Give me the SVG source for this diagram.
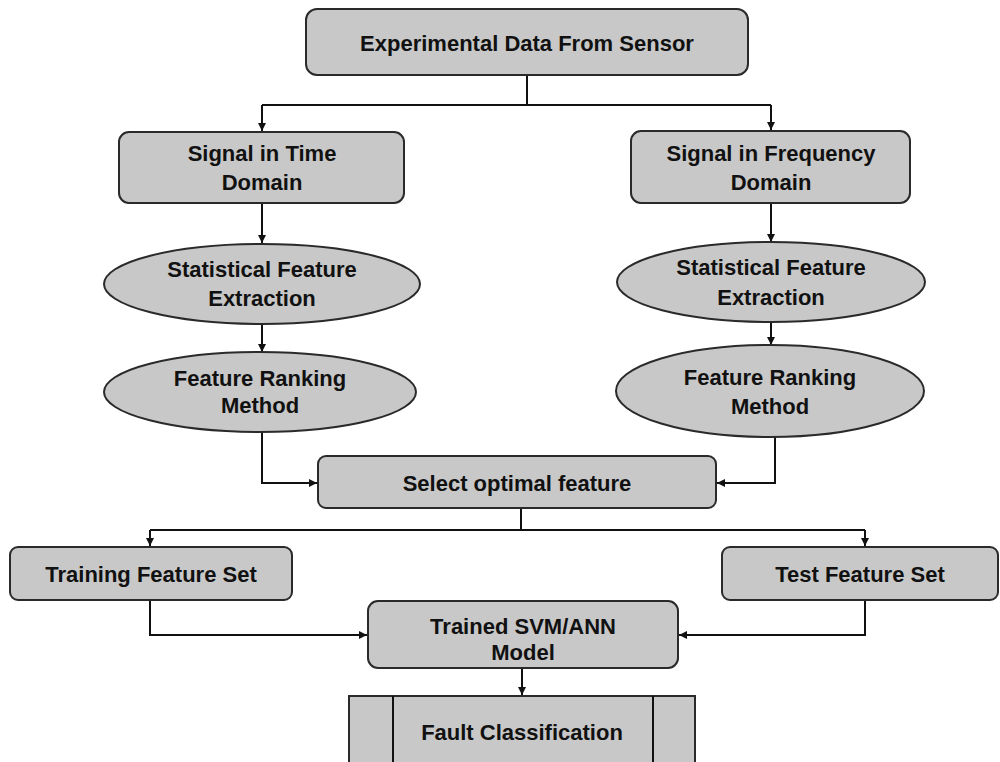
<svg xmlns="http://www.w3.org/2000/svg" width="1000" height="762" viewBox="0 0 1000 762">
<style>
.n{fill:#c8c8c8;stroke:#2a2a2a;stroke-width:2}
.t{font-family:"Liberation Sans",Arial,sans-serif;font-weight:bold;font-size:22px;fill:#111;text-anchor:middle}
.c{fill:none;stroke:#111;stroke-width:2}
</style>
<defs>
<marker id="a" viewBox="0 0 10 10" refX="10" refY="5" markerWidth="9" markerHeight="8" orient="auto-start-reverse" markerUnits="userSpaceOnUse">
<path d="M0,0 L10,5 L0,10 z" fill="#111"/>
</marker>
</defs>
<rect width="1000" height="762" fill="#fff"/>
<g id="connectors">
<path class="c" d="M527,75 V105"/>
<path class="c" d="M262,105 H771"/>
<path class="c" d="M262,105 V131" marker-end="url(#a)"/>
<path class="c" d="M771,105 V130" marker-end="url(#a)"/>
<path class="c" d="M262,203 V243" marker-end="url(#a)"/>
<path class="c" d="M771,203 V242" marker-end="url(#a)"/>
<path class="c" d="M262,324 V352" marker-end="url(#a)"/>
<path class="c" d="M771,322 V345" marker-end="url(#a)"/>
<path class="c" d="M262,432 V483 H317" marker-end="url(#a)"/>
<path class="c" d="M775,437 V483 H717" marker-end="url(#a)"/>
<path class="c" d="M521,508 V530"/>
<path class="c" d="M150,530 H865"/>
<path class="c" d="M150,530 V546" marker-end="url(#a)"/>
<path class="c" d="M865,530 V546" marker-end="url(#a)"/>
<path class="c" d="M150,600 V635 H367" marker-end="url(#a)"/>
<path class="c" d="M865,600 V635 H679" marker-end="url(#a)"/>
<path class="c" d="M522,668 V695" marker-end="url(#a)"/>
</g>
<g id="n1"><rect class="n" x="306" y="9" width="442" height="66" rx="11"/><text class="t" x="527" y="51">Experimental Data From Sensor</text></g>
<g id="n2"><rect class="n" x="119" y="132" width="285" height="71" rx="10"/><text class="t" x="262" y="161">Signal in Time</text><text class="t" x="262" y="190">Domain</text></g>
<g id="n3"><rect class="n" x="631" y="131" width="279" height="72" rx="10"/><text class="t" x="771" y="161">Signal in Frequency</text><text class="t" x="771" y="190">Domain</text></g>
<g id="n4"><ellipse class="n" cx="262" cy="284" rx="158" ry="40"/><text class="t" x="262" y="277">Statistical Feature</text><text class="t" x="262" y="306">Extraction</text></g>
<g id="n5"><ellipse class="n" cx="771" cy="282" rx="154" ry="40"/><text class="t" x="771" y="275">Statistical Feature</text><text class="t" x="771" y="305">Extraction</text></g>
<g id="n6"><ellipse class="n" cx="260" cy="392" rx="156" ry="40"/><text class="t" x="260" y="386">Feature Ranking</text><text class="t" x="260" y="413">Method</text></g>
<g id="n7"><ellipse class="n" cx="770" cy="391" rx="154" ry="46"/><text class="t" x="770" y="385">Feature Ranking</text><text class="t" x="770" y="414">Method</text></g>
<g id="n8"><rect class="n" x="318" y="456" width="398" height="52" rx="8"/><text class="t" x="517" y="491">Select optimal feature</text></g>
<g id="n9"><rect class="n" x="10" y="547" width="282" height="53" rx="8"/><text class="t" x="151" y="582">Training Feature Set</text></g>
<g id="n10"><rect class="n" x="722" y="547" width="276" height="53" rx="8"/><text class="t" x="860" y="582">Test Feature Set</text></g>
<g id="n11"><rect class="n" x="368" y="601" width="310" height="67" rx="10"/><text class="t" x="523" y="634">Trained SVM/ANN</text><text class="t" x="523" y="660">Model</text></g>
<g id="n12"><rect class="n" x="349" y="696" width="346" height="80"/><path class="c" d="M393,696 V762 M653,696 V762" stroke="#2a2a2a"/><text class="t" x="522" y="740">Fault Classification</text></g>
</svg>
